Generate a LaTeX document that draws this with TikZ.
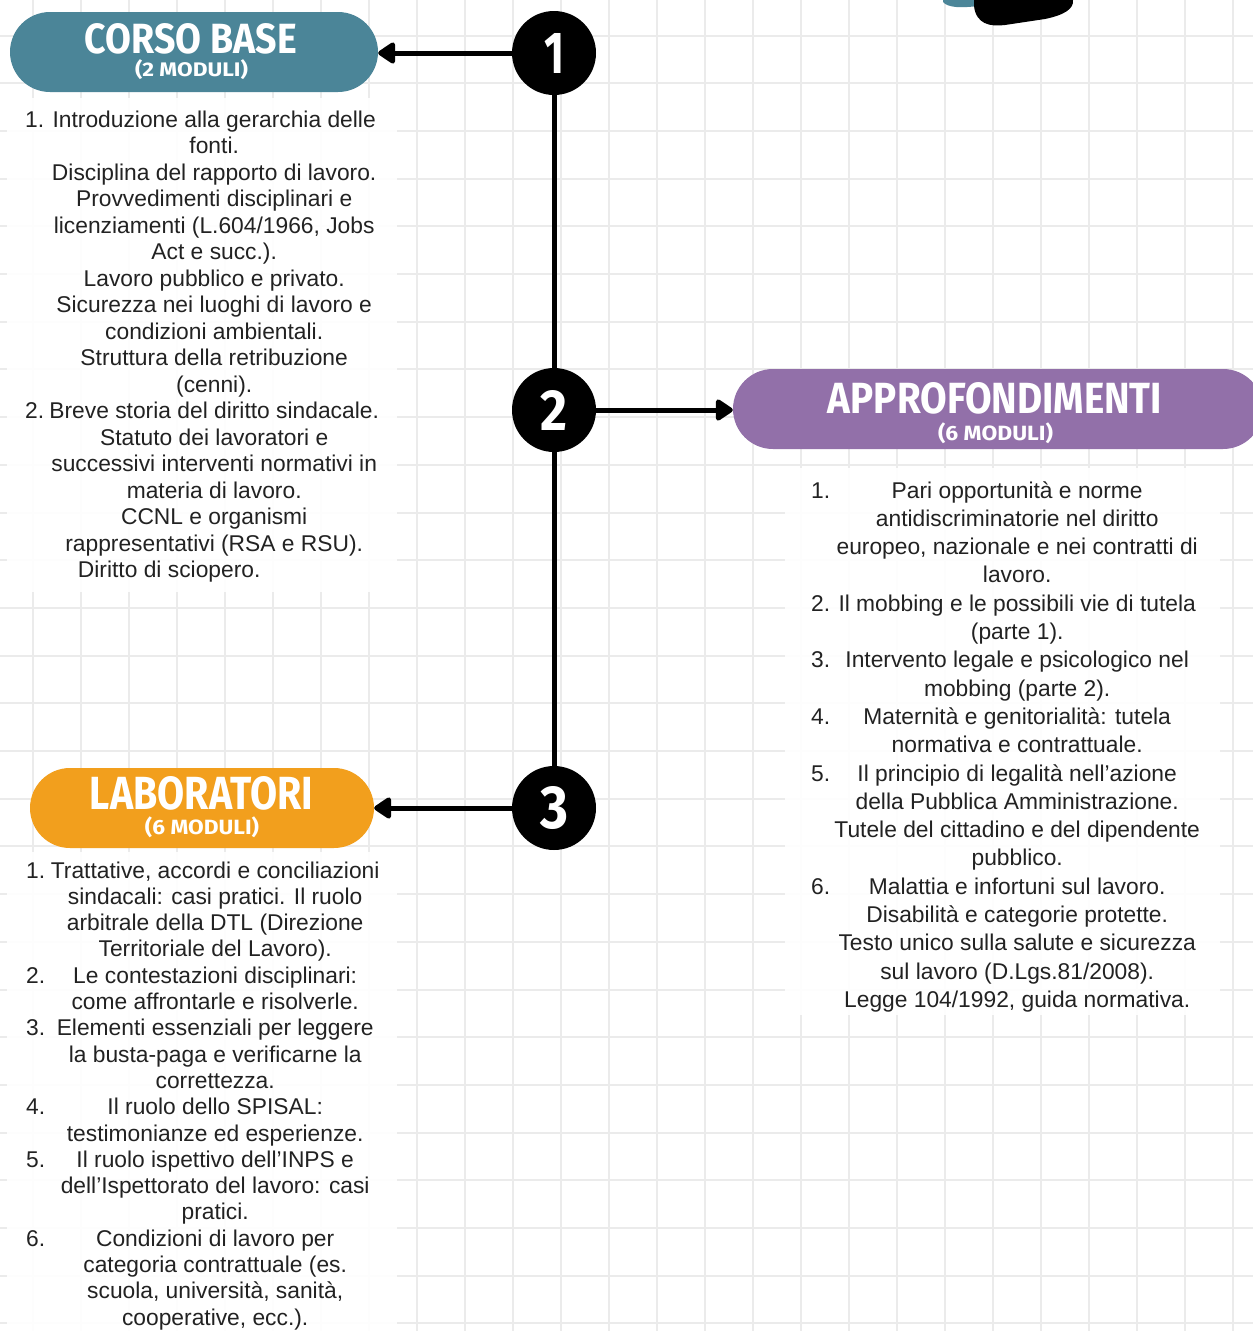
\documentclass[tikz,border=0pt]{standalone}
\usepackage{fontspec}
\usepackage{graphicx}
\setmainfont{Liberation Sans}
\newfontfamily\headfont{Fira Sans}
\usetikzlibrary{arrows.meta,shapes.misc}
\definecolor{gridc}{HTML}{EBEBEB}
\definecolor{textc}{HTML}{222222}
\definecolor{tealc}{HTML}{4B8598}
\definecolor{purplec}{HTML}{9270A9}
\definecolor{orangec}{HTML}{F29F1D}
\newcommand\bodyL{\fontsize{22.8pt}{26.5pt}\selectfont}
\newcommand\bodyLb{\fontsize{22.8pt}{26.3pt}\selectfont}
\newcommand\bodyR{\fontsize{22.8pt}{28.3pt}\selectfont}
\newcommand\LL[2]{\makebox[25pt][l]{#1}\makebox[328pt][c]{#2}}
\newcommand\RR[2]{\makebox[25pt][l]{#1}\makebox[362pt][c]{#2}}
\tikzset{
  gridline/.style={draw=gridc, line width=2pt},
  pill/.style={rounded rectangle, inner sep=0pt, minimum height=80pt},
  numcirc/.style={circle, fill=black, minimum size=84pt, inner sep=0pt, text=white},
  conn/.style={line width=5pt, draw=black},
  arr/.style={conn, -{Triangle[length=19pt,width=24pt,round]}},
  textbox/.style={fill=white, fill opacity=0.9},
  ttl/.style={inner sep=0pt, text=white, font=\headfont\bfseries},
  body/.style={inner sep=0pt, anchor=base west, text=textc}
}
\begin{document}
\begin{tikzpicture}[x=1pt,y=-1pt]
\useasboundingbox (0,0) rectangle (1253,1331);
\clip (0,0) rectangle (1253,1331);
\fill[white] (0,0) rectangle (1253,1331);
% grid
\foreach \gx in {33,81,...,1233} \draw[gridline] (\gx,0) -- (\gx,1331);
\foreach \gy in {35.5,83.2,...,1330} \draw[gridline] (0,\gy) -- (1253,\gy);
% top-right decoration
\fill[tealc] (943,0) -- (943,2) .. controls (948,8) and (962,8) .. (978,6) -- (978,0) -- cycle;
\fill[black] (974,0) -- (974,6) .. controls (976,24) and (990,27) .. (1005,25) -- (1045,19) .. controls (1064,15) and (1074,9) .. (1073,0) -- cycle;
% text backgrounds
\fill[textbox] (7,98) rectangle (397,592);
\fill[textbox] (7,852) rectangle (397,1331);
\fill[textbox] (785,468) rectangle (1220,1015);
% pills
\node[pill, fill=tealc, minimum width=368pt] (corso) at (194,52) {};
\node[pill, fill=purplec, minimum width=530pt] (appro) at (998,409) {};
\node[pill, fill=orangec, minimum width=344pt] (lab) at (202,808) {};
% titles
\node[ttl, anchor=south] (corsoT) at (191,54) {\resizebox{212pt}{30pt}{CORSO BASE}};
\node[ttl] (corsoS) at (191.5,70) {\resizebox*{113pt}{20pt}{(2 MODULI)}};
\node[ttl, anchor=south] (approT) at (995,414) {\resizebox{334pt}{31pt}{APPROFONDIMENTI}};
\node[ttl] (approS) at (995.5,433) {\resizebox*{115pt}{21pt}{(6 MODULI)}};
\node[ttl, anchor=south] (labT) at (201.5,810) {\resizebox{223pt}{33pt}{LABORATORI}};
\node[ttl] (labS) at (202,827) {\resizebox*{114pt}{21pt}{(6 MODULI)}};
% number circles
\node[numcirc] (c1) at (554,53) {\resizebox{20pt}{40pt}{\headfont\bfseries 1}};
\node[numcirc] (c2) at (554,410) {\resizebox{27pt}{40pt}{\headfont\bfseries 2}};
\node[numcirc] (c3) at (554,808) {\resizebox{28pt}{42pt}{\headfont\bfseries 3}};
% connectors
\draw[conn] (c1.south) -- (c2.north);
\draw[conn] (c2.south) -- (c3.north);
\draw[arr] (c1.west) -- (c1.west -| corso.east);
\draw[arr] (c2.east) -- (c2.east -| appro.west);
\draw[arr] (c3.west) -- (c3.west -| lab.east);
% body texts
\node[body] (corsoTxt) at (25,127) {\parbox[t]{360pt}{\bodyL
\LL{1.}{Introduzione alla gerarchia delle}\\
\LL{}{fonti.}\\
\LL{}{Disciplina del rapporto di lavoro.}\\
\LL{}{Provvedimenti disciplinari e}\\
\LL{}{licenziamenti (L.604/1966, Jobs}\\
\LL{}{Act e succ.).}\\
\LL{}{Lavoro pubblico e privato.}\\
\LL{}{Sicurezza nei luoghi di lavoro e}\\
\LL{}{condizioni ambientali.}\\
\LL{}{Struttura della retribuzione}\\
\LL{}{(cenni).}\\
\LL{2.}{Breve storia del diritto sindacale.}\\
\LL{}{Statuto dei lavoratori e}\\
\LL{}{successivi interventi normativi in}\\
\LL{}{materia di lavoro.}\\
\LL{}{CCNL e organismi}\\
\LL{}{rappresentativi (RSA e RSU).}\\
\LL{}{\hspace*{-90pt}Diritto di sciopero.}}};
\node[body] (labTxt) at (26,878) {\parbox[t]{360pt}{\bodyLb
\LL{1.}{Trattative, accordi e conciliazioni}\\
\LL{}{sindacali: casi pratici. Il ruolo}\\
\LL{}{arbitrale della DTL (Direzione}\\
\LL{}{Territoriale del Lavoro).}\\
\LL{2.}{Le contestazioni disciplinari:}\\
\LL{}{come affrontarle e risolverle.}\\
\LL{3.}{Elementi essenziali per leggere}\\
\LL{}{la busta-paga e verificarne la}\\
\LL{}{correttezza.}\\
\LL{4.}{Il ruolo dello SPISAL:}\\
\LL{}{testimonianze ed esperienze.}\\
\LL{5.}{Il ruolo ispettivo dell’INPS e}\\
\LL{}{dell’Ispettorato del lavoro: casi}\\
\LL{}{pratici.}\\
\LL{6.}{Condizioni di lavoro per}\\
\LL{}{categoria contrattuale (es.}\\
\LL{}{scuola, università, sanità,}\\
\LL{}{cooperative, ecc.).}}};
\node[body] (approTxt) at (811,498) {\parbox[t]{400pt}{\bodyR
\RR{1.}{Pari opportunità e norme}\\
\RR{}{antidiscriminatorie nel diritto}\\
\RR{}{europeo, nazionale e nei contratti di}\\
\RR{}{lavoro.}\\
\RR{2.}{Il mobbing e le possibili vie di tutela}\\
\RR{}{(parte 1).}\\
\RR{3.}{Intervento legale e psicologico nel}\\
\RR{}{mobbing (parte 2).}\\
\RR{4.}{Maternità e genitorialità: tutela}\\
\RR{}{normativa e contrattuale.}\\
\RR{5.}{Il principio di legalità nell’azione}\\
\RR{}{della Pubblica Amministrazione.}\\
\RR{}{Tutele del cittadino e del dipendente}\\
\RR{}{pubblico.}\\
\RR{6.}{Malattia e infortuni sul lavoro.}\\
\RR{}{Disabilità e categorie protette.}\\
\RR{}{Testo unico sulla salute e sicurezza}\\
\RR{}{sul lavoro (D.Lgs.81/2008).}\\
\RR{}{Legge 104/1992, guida normativa.}}};
\end{tikzpicture}
\end{document}
